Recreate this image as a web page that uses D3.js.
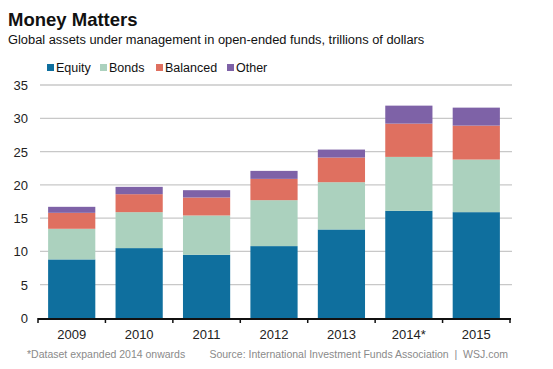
<!DOCTYPE html>
<html>
<head>
<meta charset="utf-8">
<script src="https://cdn.jsdelivr.net/npm/d3@7"></script>
<style>
  body { margin: 0; background: #fff; }
  svg { font-family: "Liberation Sans", Arial, sans-serif; }
</style>
</head>
<body>
<svg id="chart" width="553" height="369"></svg>
<script>
const years = ["2009", "2010", "2011", "2012", "2013", "2014*", "2015"];
const series = ["Equity", "Bonds", "Balanced", "Other"];
const equity   = [8.8, 10.5, 9.5, 10.8, 13.3, 16.1, 15.9];
const bonds    = [4.6, 5.4, 5.9, 6.9, 7.1, 8.1, 7.9];
const balanced = [2.4, 2.7, 2.7, 3.2, 3.7, 5.0, 5.1];
const other    = [0.9, 1.1, 1.1, 1.2, 1.2, 2.7, 2.7];
const yTicks = [0, 5, 10, 15, 20, 25, 30, 35];
const colors = ["#0f6f9e", "#abd1be", "#df7060", "#7e62a7"];

const svg = d3.select("#chart");
const plotLeft = 38, plotRight = 510, plotTop = 85, plotBottom = 318;

// rows for the stack
const rows = years.map((yr, i) => ({
  year: yr, Equity: equity[i], Bonds: bonds[i], Balanced: balanced[i], Other: other[i]
}));
const stacked = d3.stack().keys(series)(rows);

const x = d3.scaleBand().domain(years).range([plotLeft, plotRight]).paddingInner(0.3).paddingOuter(0.15);
const y = d3.scaleLinear().domain([0, 35]).range([plotBottom, plotTop]);

// title
svg.append("text").attr("x", 8).attr("y", 26)
  .attr("font-size", 18.5).attr("font-weight", "bold").attr("fill", "#111")
  .text("Money Matters");
svg.append("text").attr("x", 8).attr("y", 44)
  .attr("font-size", 12.85).attr("fill", "#111")
  .text("Global assets under management in open-ended funds, trillions of dollars");

// legend
const legX = [47, 100, 156, 227];
const leg = svg.append("g");
series.forEach((s, i) => {
  leg.append("rect").attr("x", legX[i]).attr("y", 64).attr("width", 7).attr("height", 7)
    .attr("fill", colors[i]);
  leg.append("text").attr("x", legX[i] + 9).attr("y", 72)
    .attr("font-size", 12.5).attr("fill", "#111").text(s);
});

// grid
svg.append("g").selectAll("line").data(yTicks.filter(d => d > 0)).join("line")
  .attr("x1", plotLeft + 2).attr("x2", plotRight + 2)
  .attr("y1", d => y(d)).attr("y2", d => y(d))
  .attr("stroke", "#c8c8c8").attr("stroke-width", 1.3);

// y labels
svg.append("g").selectAll("text").data(yTicks).join("text")
  .attr("x", 28).attr("y", d => y(d) + 5)
  .attr("text-anchor", "end").attr("font-size", 13).attr("fill", "#222")
  .text(d => d);

// bars
svg.append("g").selectAll("g").data(stacked).join("g")
  .attr("fill", (d, i) => colors[i])
  .selectAll("rect").data(d => d).join("rect")
  .attr("x", d => x(d.data.year))
  .attr("width", x.bandwidth())
  .attr("y", d => y(d[1]))
  .attr("height", d => y(d[0]) - y(d[1]));

// x axis
const xAxis = svg.append("g");
xAxis.append("line").attr("x1", plotLeft).attr("x2", plotRight + 1)
  .attr("y1", plotBottom + 1).attr("y2", plotBottom + 1)
  .attr("stroke", "#111").attr("stroke-width", 2);
const edges = years.map(d => x(d) - x.step() * x.paddingInner() / 2);
edges.push(plotRight);
xAxis.selectAll("line.tick").data(edges).join("line").attr("class", "tick")
  .attr("x1", d => d).attr("x2", d => d)
  .attr("y1", plotBottom).attr("y2", plotBottom + 5)
  .attr("stroke", "#111").attr("stroke-width", 1.5);
xAxis.selectAll("text").data(years).join("text")
  .attr("x", d => x(d) + x.bandwidth() / 2).attr("y", 339)
  .attr("text-anchor", "middle").attr("font-size", 13).attr("fill", "#222")
  .text(d => d);

// footer
svg.append("text").attr("x", 27).attr("y", 358)
  .attr("font-size", 10.5).attr("fill", "#8a8a8a")
  .text("*Dataset expanded 2014 onwards");
svg.append("text").attr("x", 508).attr("y", 358).attr("text-anchor", "end")
  .attr("font-size", 10.5).attr("fill", "#8a8a8a")
  .style("white-space", "pre")
  .text("Source: International Investment Funds Association  |  WSJ.com");
</script>
</body>
</html>
